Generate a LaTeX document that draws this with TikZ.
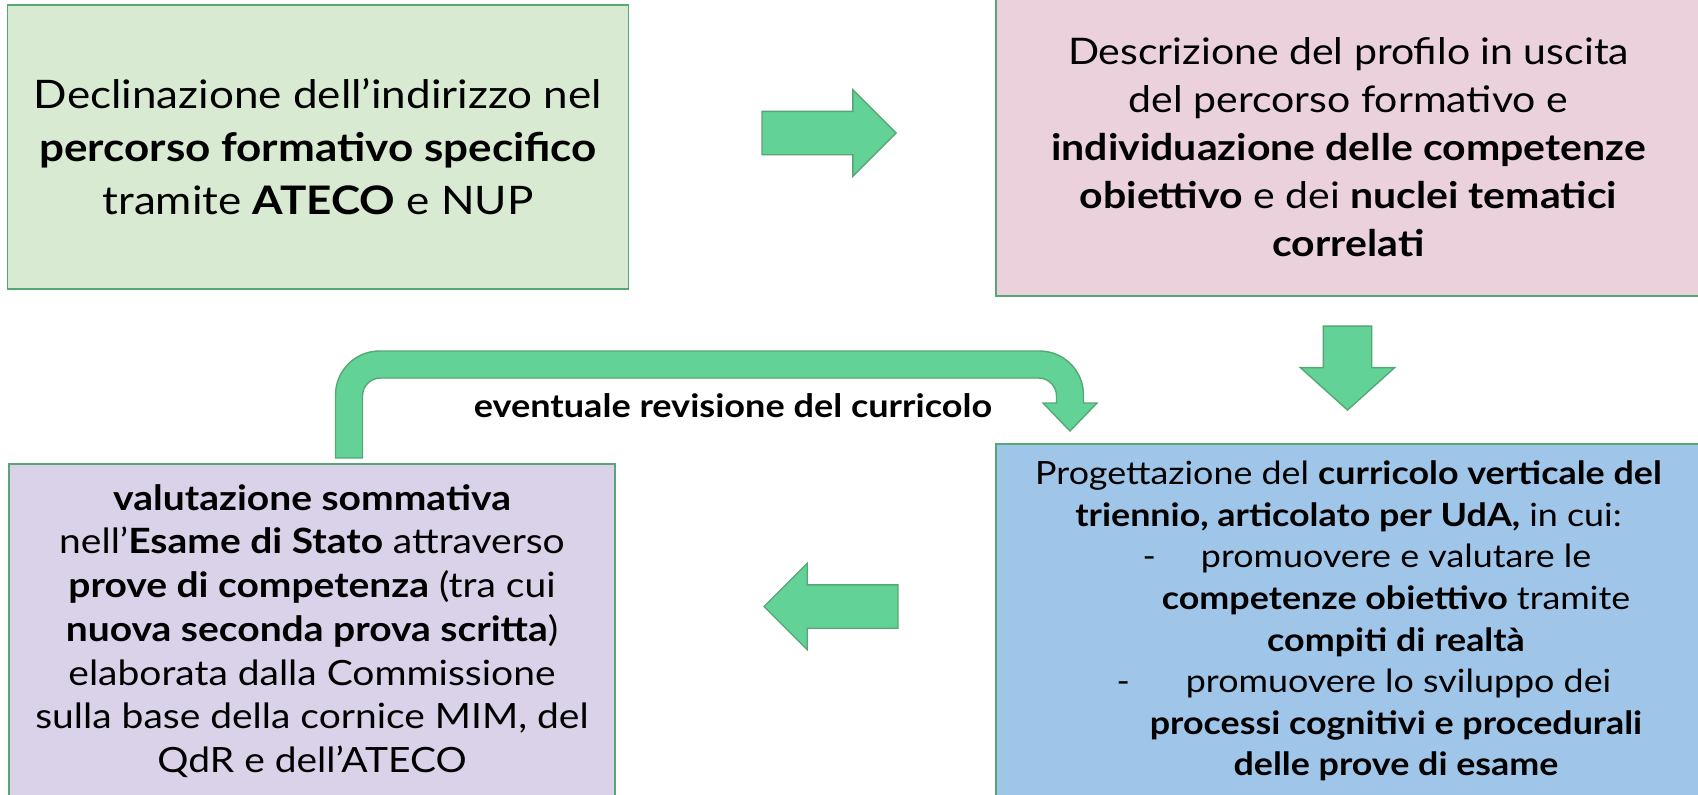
\documentclass[tikz,border=0pt]{standalone}
\usepackage{fontspec}
\setmainfont{Lato}[FakeStretch=1.12]
\usepackage{xcolor}
\usetikzlibrary{shapes.arrows, positioning}

\definecolor{declfill}{HTML}{D9EAD3}
\definecolor{proffill}{HTML}{EAD1DC}
\definecolor{currfill}{HTML}{9FC5E8}
\definecolor{valfill}{HTML}{D9D2E9}
\definecolor{arrowg}{HTML}{63D297}
\definecolor{lineg}{HTML}{55A873}

\begin{document}
\begin{tikzpicture}[x=1pt, y=-1pt]
\tikzset{box/.style = {draw=lineg, line width=1.6pt, align=center, inner sep=0pt},
         blockarrow/.style = {single arrow, draw=lineg, fill=arrowg, line width=1.4pt, anchor=tip,
                              inner sep=21pt, single arrow head extend=21.5pt,
                              minimum width=85pt, minimum height=134pt}}
\useasboundingbox (0,0) rectangle (1698,795);
\clip (0,0) rectangle (1698,795);
            % boxes
	\node[box, font=\fontsize{39.3}{53}\selectfont, fill=declfill, minimum width=621pt, minimum height=284pt] (decl) at (318,147)
	  {Declinazione dell’indirizzo nel\\ \textbf{percorso formativo specifico}\\ tramite \textbf{ATECO} e NUP};
	\node[box, font=\fontsize{36.6}{48}\selectfont, fill=proffill, minimum width=705pt, minimum height=297pt] (prof) at (1348.5,147.5)
	  {Descrizione del profilo in uscita\\ del percorso formativo e\\ \textbf{individuazione delle competenze}\\
	   \textbf{obiettivo} e dei \textbf{nuclei tematici}\\ \textbf{correlati}};
	\node[box, font=\fontsize{32}{41.6}\selectfont, fill=currfill, minimum width=705pt, minimum height=354pt] (curr) at (1348.5,621)
	  {Progettazione del \textbf{curricolo verticale del}\\
	   \textbf{triennio, articolato per UdA,} in cui:\\
	   \hspace*{95pt}\makebox[0pt][r]{-\hspace{45pt}}promuovere e valutare le\\
	   \hspace*{95pt}\textbf{competenze obiettivo} tramite\\
	   \hspace*{95pt}\textbf{compiti di realtà}\\
	   \hspace*{100pt}\makebox[0pt][r]{-\hspace{56pt}}promuovere lo sviluppo dei\\
	   \hspace*{95pt}\textbf{processi cognitivi e procedurali}\\
	   \hspace*{95pt}\textbf{delle prove di esame}};
	\node[box, font=\fontsize{34.8}{43.7}\selectfont, fill=valfill, minimum width=606pt, minimum height=334pt] (val) at (312,631)
	  {\textbf{valutazione sommativa}\\ nell’\textbf{Esame di Stato} attraverso\\
	   \textbf{prove di competenza} (tra cui\\ \textbf{nuova seconda prova scritta})\\
	   elaborata dalla Commissione\\ sulla base della cornice MIM, del\\ QdR e dell’ATECO};
            % arrows
	\node[blockarrow] (a1) at (897,133) {};
	\node[blockarrow, rotate=-90, inner sep=23.5pt, single arrow head extend=23pt,
	      minimum width=93pt, minimum height=84pt, single arrow tip angle=96] (a2) at (1347.5,411) {};
	\node[blockarrow, rotate=180] (a3) at (763,606.5) {};
	\draw[draw=lineg, fill=arrowg, line width=1.4pt] (335.5,458) -- (335.5,395) arc[start angle=180, end angle=90, radius=44pt]
	  -- (1039.5,351) arc[start angle=90, end angle=0, radius=44pt] -- (1083.5,403) -- (1097,403) -- (1070,431) -- (1043,403)
	  -- (1056.5,403) -- (1056.5,396) arc[start angle=0, end angle=90, radius=18pt] -- (380.5,378)
	  arc[start angle=90, end angle=180, radius=18pt] -- (362.5,458) -- cycle;
	\node[font=\bfseries\fontsize{32.2}{38}\selectfont] (rev) at (733,406) {eventuale revisione del curricolo};
\end{tikzpicture}
\end{document}
